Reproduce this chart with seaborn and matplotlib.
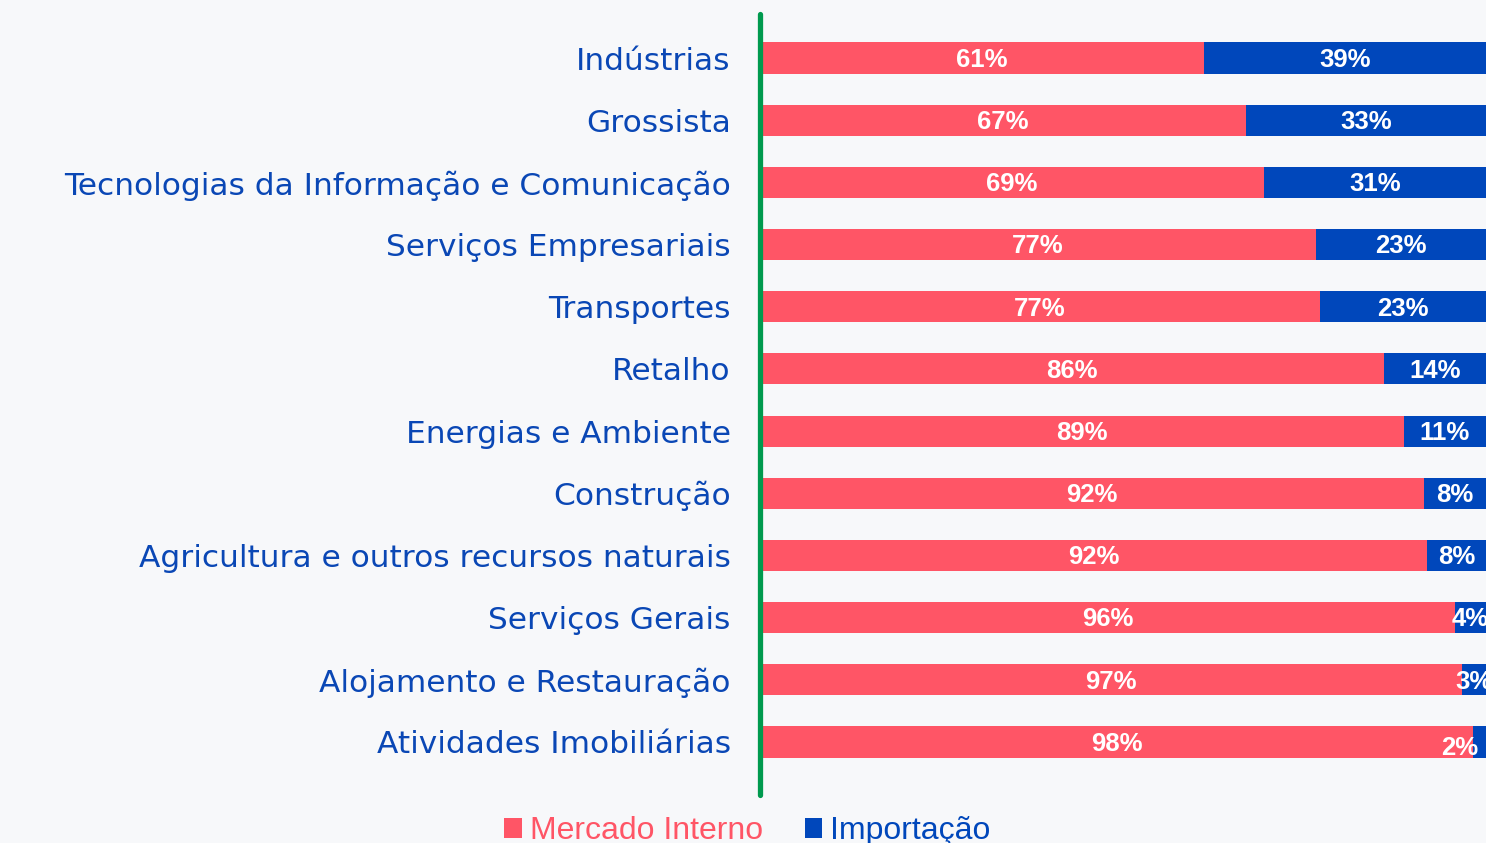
import pandas as pd
import matplotlib
matplotlib.use("Agg")
import matplotlib.pyplot as plt
import seaborn as sns
from matplotlib.patches import Patch

# Data (share of purchases, %)
setores = [
    "Indústrias",
    "Grossista",
    "Tecnologias da Informação e Comunicação",
    "Serviços Empresariais",
    "Transportes",
    "Retalho",
    "Energias e Ambiente",
    "Construção",
    "Agricultura e outros recursos naturais",
    "Serviços Gerais",
    "Alojamento e Restauração",
    "Atividades Imobiliárias",
]
mercado_interno = [61.1, 67.0, 69.4, 76.6, 77.1, 85.9, 88.7, 91.5, 91.9, 95.7, 96.7, 98.2]
importacao = [38.9, 33.0, 30.6, 23.4, 22.9, 14.1, 11.3, 8.5, 8.1, 4.3, 3.3, 1.8]

# Colours
red = "#ff5566"
blue = "#0047bb"
green = "#009a4e"
bg = "#f7f8fa"

df = pd.DataFrame({"Setor": setores, "Mercado Interno": mercado_interno, "Importação": importacao})
df["Total"] = df["Mercado Interno"] + df["Importação"]

sns.set_style("white")
plt.rcParams["font.family"] = ["Liberation Sans", "DejaVu Sans"]

fig = plt.figure(figsize=(14.86, 8.43), dpi=100, facecolor=bg)
ax = fig.add_axes([760 / 1486, (843 - 795) / 843, 1 - 760 / 1486, (795 - 14) / 843])
ax.set_facecolor(bg)

# stacked bars: total (blue) underneath, mercado interno (red) on top
sns.barplot(data=df, x="Total", y="Setor", color=blue, width=0.5, saturation=1,
            linewidth=0, ax=ax)
sns.barplot(data=df, x="Mercado Interno", y="Setor", color=red, width=0.5, saturation=1,
            linewidth=0, ax=ax)

ax.set_xlim(0, 100)
ax.set_ylim(11.853, -0.708)
ax.set_xlabel("")
ax.set_ylabel("")
ax.set_xticks([])
ax.tick_params(axis="y", length=0, pad=21)
for lbl in ax.get_yticklabels():
    lbl.set_fontfamily("DejaVu Sans")
    lbl.set_fontsize(22.5)
    lbl.set_color("#0a47b5")

for side in ["top", "right", "bottom"]:
    ax.spines[side].set_visible(False)
ax.spines["left"].set_color(green)
ax.spines["left"].set_linewidth(3.8)
ax.spines["left"].set_capstyle("round")

# value labels
for i, (m, imp) in enumerate(zip(mercado_interno, importacao)):
    ax.text(m / 2, i + 0.03, f"{round(m)}%", ha="center", va="center", color="white",
            fontsize=18.5, fontweight="bold")
    x = m + imp / 2
    y = i + 0.03
    if imp < 3:
        x = 100 - 3.6
        y = i + 0.1
    ax.text(x, y, f"{round(imp)}%", ha="center", va="center", color="white",
            fontsize=18.5, fontweight="bold", clip_on=False)

handles = [Patch(facecolor=red, edgecolor="none"), Patch(facecolor=blue, edgecolor="none")]
leg = fig.legend(handles, ["Mercado Interno", "Importação"], loc="center",
                 bbox_to_anchor=(0.503, 0.014), ncol=2, frameon=False, fontsize=23,
                 handlelength=0.55, handleheight=0.55, handletextpad=0.25, columnspacing=1.3)
for txt, c in zip(leg.get_texts(), [red, blue]):
    txt.set_color(c)

fig.savefig("out.png", dpi=100, facecolor=bg)
